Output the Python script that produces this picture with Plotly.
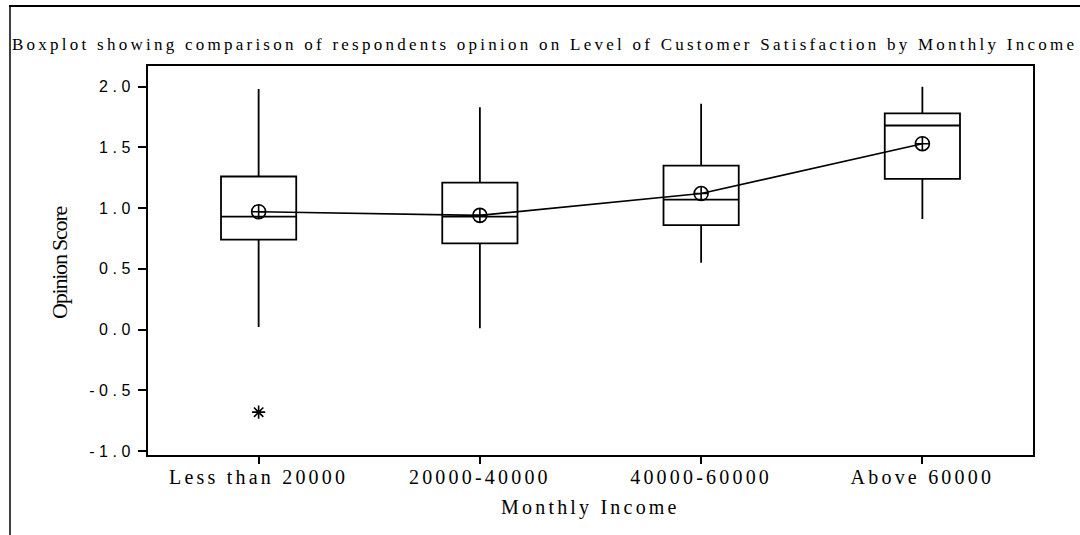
import plotly.graph_objects as go

# ---- data ----
categories = ["Less than 20000", "20000-40000", "40000-60000", "Above 60000"]
q1_values = [0.74, 0.71, 0.86, 1.24]
median_values = [0.93, 0.93, 1.07, 1.68]
q3_values = [1.26, 1.21, 1.35, 1.78]
lower_whisker = [0.02, 0.01, 0.55, 0.91]
upper_whisker = [1.98, 1.83, 1.86, 2.00]
mean_values = [0.97, 0.94, 1.12, 1.53]
outlier_x = ["Less than 20000"]
outlier_y = [-0.68]
y_tick_values = [-1.0, -0.5, 0.0, 0.5, 1.0, 1.5, 2.0]
y_tick_labels = ["-1.0", "-0.5", "0.0", "0.5", "1.0", "1.5", "2.0"]

title_text = ("Boxplot showing comparison of respondents opinion on Level of "
              "Customer Satisfaction by Monthly Income")
x_title = "Monthly Income"
y_title = "Opinion Score"

# ---- layout constants (pixels) ----
W, H = 1080, 535
L, R, T, B = 148, 1033, 66, 455
PW, PH = R - L, B - T


def px(x):
    return (x - L) / PW


def py(y):
    return (B - y) / PH


def spaced(text, sp):
    return f"<span style='letter-spacing:{sp}px'>{text}</span>"


SERIF = "Liberation Serif, Times New Roman, serif"
SANS = "Liberation Sans, Arial, sans-serif"

fig = go.Figure()

fig.add_trace(go.Box(
    x=categories,
    q1=q1_values,
    median=median_values,
    q3=q3_values,
    lowerfence=lower_whisker,
    upperfence=upper_whisker,
    boxpoints=False,
    width=0.34,
    whiskerwidth=0,
    fillcolor="white",
    line=dict(color="black", width=1.8),
    showlegend=False,
    hoverinfo="skip",
))

fig.add_trace(go.Scatter(
    x=categories,
    y=mean_values,
    mode="lines+markers",
    line=dict(color="black", width=1.6),
    marker=dict(symbol="circle-cross-open", size=14, color="black",
                line=dict(color="black", width=1.6)),
    showlegend=False,
))

fig.add_trace(go.Scatter(
    x=outlier_x,
    y=outlier_y,
    mode="markers",
    marker=dict(symbol="asterisk-open", size=11, color="black",
                line=dict(color="black", width=1.6)),
    showlegend=False,
))

fig.update_layout(
    width=W, height=H,
    margin=dict(l=L, r=W - R, t=T, b=H - B, pad=0),
    paper_bgcolor="white",
    plot_bgcolor="white",
    showlegend=False,
    xaxis=dict(
        type="category",
        categoryorder="array",
        categoryarray=categories,
        range=[-0.5, 3.5],
        tickvals=categories,
        ticktext=[spaced(c, 3.2) for c in categories],
        tickfont=dict(family=SERIF, size=20, color="black"),
        ticklabelstandoff=-4,
        showline=True, mirror=True, linecolor="black", linewidth=2,
        ticks="outside", ticklen=7, tickwidth=1.5, tickcolor="black",
        showgrid=False, zeroline=False,
    ),
    yaxis=dict(
        range=[-1.033, 2.17],
        tickvals=y_tick_values,
        ticktext=[spaced(t, 4.5) for t in y_tick_labels],
        tickfont=dict(family=SANS, size=16, color="black"),
        showline=True, mirror=True, linecolor="black", linewidth=2,
        ticks="outside", ticklen=8, tickwidth=1.5, tickcolor="black",
        showgrid=False, zeroline=False,
    ),
    annotations=[
        dict(text=spaced(title_text, 3.25), xref="paper", yref="paper",
             x=px(10), y=py(44), xanchor="left", yanchor="middle",
             showarrow=False, font=dict(family=SERIF, size=17, color="black")),
        dict(text=spaced(x_title, 3.2), xref="paper", yref="paper",
             x=px(590), y=py(507), xanchor="center", yanchor="middle",
             showarrow=False, font=dict(family=SERIF, size=20, color="black")),
        dict(text=spaced(y_title, -1.2), xref="paper", yref="paper",
             x=px(59), y=py(263), xanchor="center", yanchor="middle",
             textangle=-90,
             showarrow=False, font=dict(family=SERIF, size=22, color="black")),
    ],
    shapes=[
        dict(type="line", xref="paper", yref="paper",
             x0=px(9), x1=px(1080), y0=py(6), y1=py(6),
             line=dict(color="black", width=2)),
        dict(type="line", xref="paper", yref="paper",
             x0=px(10), x1=px(10), y0=py(6), y1=py(535),
             line=dict(color="black", width=1.5)),
    ],
)

fig.write_html(
    "out.html",
    config={"displayModeBar": False},
    post_script="document.body.style.margin='0';document.body.style.overflow='hidden';",
)
